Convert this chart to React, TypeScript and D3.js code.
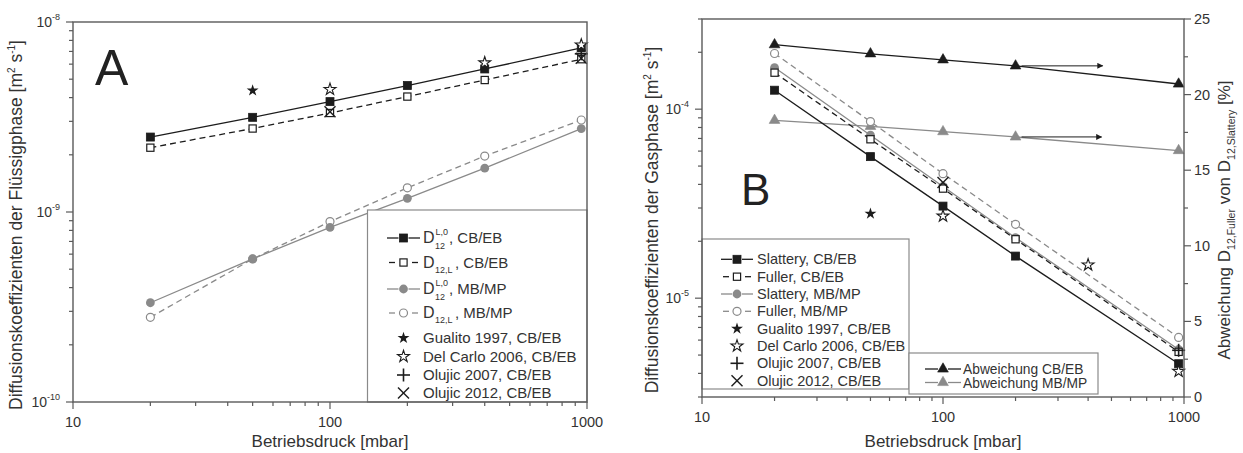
import React from 'react';
import * as d3 from 'd3';

// ---- Panel A: liquid-phase diffusion coefficients [m² s⁻¹] ----
const pressureLiquid = [20, 50, 100, 200, 400, 950];
const d12L0CbEb = [2.48e-9, 3.15e-9, 3.81e-9, 4.63e-9, 5.66e-9, 7.3e-9];
const d12LCbEb = [2.18e-9, 2.75e-9, 3.32e-9, 4.05e-9, 4.95e-9, 6.37e-9];
const d12L0MbMp = [3.33e-10, 5.66e-10, 8.3e-10, 1.18e-9, 1.7e-9, 2.75e-9];
const d12LMbMp = [2.79e-10, 5.66e-10, 8.9e-10, 1.34e-9, 1.97e-9, 3.05e-9];

const gualitoLiquid: [number, number][] = [[50, 4.36e-9]];
const delCarloLiquid: [number, number][] = [[100, 4.42e-9], [400, 6.1e-9], [950, 7.57e-9]];
const olujic2007Liquid: [number, number][] = [[950, 6.8e-9]];
const olujic2012Liquid: [number, number][] = [[100, 3.37e-9], [950, 6.45e-9]];

// ---- Panel B: gas-phase diffusion coefficients [m² s⁻¹] ----
const pressureGas = [20, 50, 100, 200, 950];
const slatteryCbEb = [1.26e-4, 5.61e-5, 3.07e-5, 1.67e-5, 4.5e-6];
const fullerCbEb = [1.56e-4, 6.93e-5, 3.8e-5, 2.05e-5, 5.2e-6];
const slatteryMbMp = [1.66e-4, 7.28e-5, 3.9e-5, 2.09e-5, 5.35e-6];
const fullerMbMp = [1.97e-4, 8.6e-5, 4.56e-5, 2.46e-5, 6.2e-6];
// deviation of Fuller from Slattery [%], right axis
const deviationCbEb = [23.3, 22.7, 22.3, 21.9, 20.7];
const deviationMbMp = [18.3, 17.9, 17.55, 17.2, 16.3];

const gualitoGas: [number, number][] = [[50, 2.8e-5]];
const delCarloGas: [number, number][] = [[100, 2.72e-5], [400, 1.5e-5], [950, 4.1e-6]];
const olujic2007Gas: [number, number][] = [[950, 5.3e-6]];
const olujic2012Gas: [number, number][] = [[100, 4.09e-5]];

const xTickLabels = ['10', '100', '1000'];
const rightTickLabels = [0, 5, 10, 15, 20, 25];

const FONT = '"Liberation Sans", Arial, Helvetica, sans-serif';
const INK = '#333';
const AXIS = '#5a5a5a';
const BLACK = '#1c1c1c';
const GRAY = '#8a8a8a';

type Kind = 'squareFilled' | 'squareOpen' | 'circleFilled' | 'circleOpen' | 'triangle' |
  'starFilled' | 'starOpen' | 'plus' | 'cross';

const triPath = d3.symbol().type(d3.symbolTriangle).size(50)() as string;
const starPath = d3.symbol().type(d3.symbolStar).size(44)() as string;

function Marker({ kind, x, y, color }: { kind: Kind; x: number; y: number; color: string }) {
  switch (kind) {
    case 'squareFilled':
      return <rect x={x - 4} y={y - 4} width={8} height={8} fill={color} stroke={color} strokeWidth={0.8} />;
    case 'squareOpen':
      return <rect x={x - 3.6} y={y - 3.6} width={7.2} height={7.2} fill="#fff" stroke={color} strokeWidth={1.2} />;
    case 'circleFilled':
      return <circle cx={x} cy={y} r={4.4} fill={color} />;
    case 'circleOpen':
      return <circle cx={x} cy={y} r={4} fill="#fff" stroke={color} strokeWidth={1.2} />;
    case 'triangle':
      return <path d={triPath} transform={`translate(${x},${y})`} fill={color} stroke={color} strokeWidth={0.6} />;
    case 'starFilled':
      return <path d={starPath} transform={`translate(${x},${y})`} fill={color} />;
    case 'starOpen':
      return <path d={starPath} transform={`translate(${x},${y})`} fill="#fff" stroke={color} strokeWidth={1.1} />;
    case 'plus':
      return (
        <g stroke={color} strokeWidth={1.6}>
          <line x1={x - 6.5} x2={x + 6.5} y1={y} y2={y} />
          <line x1={x} x2={x} y1={y - 6.5} y2={y + 6.5} />
        </g>
      );
    case 'cross':
      return (
        <g stroke={color} strokeWidth={1.4}>
          <line x1={x - 5.5} x2={x + 5.5} y1={y - 5.5} y2={y + 5.5} />
          <line x1={x - 5.5} x2={x + 5.5} y1={y + 5.5} y2={y - 5.5} />
        </g>
      );
  }
  return null;
}

type Scale = (v: number) => number;

interface Series { xs: number[]; ys: number[]; kind: Kind; color: string; dashed: boolean; }

function SeriesMarks({ s, x, y }: { s: Series; x: Scale; y: Scale }) {
  const pts: [number, number][] = s.xs.map((p, i) => [x(p), y(s.ys[i])]);
  const path = d3.line()(pts) as string;
  return (
    <g>
      <path d={path} fill="none" stroke={s.color} strokeWidth={1.3} strokeDasharray={s.dashed ? '6 4' : undefined} />
      {pts.map((p, i) => <Marker key={i} kind={s.kind} x={p[0]} y={p[1]} color={s.color} />)}
    </g>
  );
}

function PointMarks({ pts, kind, x, y }: { pts: [number, number][]; kind: Kind; x: Scale; y: Scale }) {
  return <g>{pts.map((p, i) => <Marker key={i} kind={kind} x={x(p[0])} y={y(p[1])} color={BLACK} />)}</g>;
}

function LegendSwatch({ x0, x1, y, kind, color, dashed }: { x0: number; x1: number; y: number; kind: Kind; color: string; dashed: boolean }) {
  const xm = (x0 + x1) / 2;
  return (
    <g>
      {dashed ? (
        <g stroke={color} strokeWidth={1.3}>
          <line x1={x0 + 2} x2={x0 + 8} y1={y} y2={y} />
          <line x1={x1 - 8} x2={x1 - 2} y1={y} y2={y} />
        </g>
      ) : (
        <g stroke={color} strokeWidth={1.3}>
          <line x1={x0} x2={xm - 5} y1={y} y2={y} />
          <line x1={xm + 5} x2={x1} y1={y} y2={y} />
        </g>
      )}
      <Marker kind={kind} x={xm} y={y} color={color} />
    </g>
  );
}

function LogYAxis({ y, x0, labelX }: { y: d3.ScaleLogarithmic<number, number>; x0: number; labelX: number }) {
  const ticks = y.ticks();
  return (
    <g>
      {ticks.map((t, i) => {
        const major = Math.abs(Math.log10(t) - Math.round(Math.log10(t))) < 1e-6;
        const py = y(t);
        return (
          <g key={i}>
            <line x1={x0 - (major ? 7 : 4)} x2={x0} y1={py} y2={py} stroke={AXIS} strokeWidth={1.2} />
            {major && (
              <text x={labelX} y={py + 5} textAnchor="end" fontSize={14} fill={INK}>
                10<tspan dy={-7} fontSize={9}>{String(Math.round(Math.log10(t)))}</tspan>
              </text>
            )}
          </g>
        );
      })}
    </g>
  );
}

function LogXAxis({ x, y0 }: { x: d3.ScaleLogarithmic<number, number>; y0: number }) {
  const ticks = x.ticks();
  return (
    <g>
      {ticks.map((t, i) => {
        const major = Math.abs(Math.log10(t) - Math.round(Math.log10(t))) < 1e-6;
        return <line key={i} x1={x(t)} x2={x(t)} y1={y0} y2={y0 + (major ? 7 : 4)} stroke={AXIS} strokeWidth={1.2} />;
      })}
      {xTickLabels.map((l) => (
        <text key={l} x={x(+l)} y={y0 + 25} textAnchor="middle" fontSize={14.5} fill={INK}>{l}</text>
      ))}
    </g>
  );
}

export default function App() {
  // panel A geometry
  const xA = d3.scaleLog().domain([10, 1000]).range([73, 587]);
  const yA = d3.scaleLog().domain([1e-10, 1e-8]).range([402, 22]);
  // panel B geometry
  const xB = d3.scaleLog().domain([10, 1000]).range([702, 1184]);
  const yB = d3.scaleLog().domain([3e-6, 3e-4]).range([397, 19]);
  const yB2 = d3.scaleLinear().domain([0, 25]).range([397, 19]);

  const liquidSeries: Series[] = [
    { xs: pressureLiquid, ys: d12LCbEb, kind: 'squareOpen', color: BLACK, dashed: true },
    { xs: pressureLiquid, ys: d12L0CbEb, kind: 'squareFilled', color: BLACK, dashed: false },
    { xs: pressureLiquid, ys: d12LMbMp, kind: 'circleOpen', color: GRAY, dashed: true },
    { xs: pressureLiquid, ys: d12L0MbMp, kind: 'circleFilled', color: GRAY, dashed: false },
  ];
  const gasSeries: Series[] = [
    { xs: pressureGas, ys: fullerMbMp, kind: 'circleOpen', color: GRAY, dashed: true },
    { xs: pressureGas, ys: slatteryMbMp, kind: 'circleFilled', color: GRAY, dashed: false },
    { xs: pressureGas, ys: fullerCbEb, kind: 'squareOpen', color: BLACK, dashed: true },
    { xs: pressureGas, ys: slatteryCbEb, kind: 'squareFilled', color: BLACK, dashed: false },
  ];
  const deviationSeries: Series[] = [
    { xs: pressureGas, ys: deviationMbMp, kind: 'triangle', color: GRAY, dashed: false },
    { xs: pressureGas, ys: deviationCbEb, kind: 'triangle', color: BLACK, dashed: false },
  ];

  const [ax0, ax1] = xA.range();
  const [aBottom, aTop] = yA.range();
  const [bx0, bx1] = xB.range();
  const [bBottom, bTop] = yB.range();

  // Legend rows for panel A
  const legA = { x: 367.5, y: 210, sx0: 387, sx1: 420, tx: 423 };
  const legARows = [238, 262.5, 289, 313, 338, 356.5, 375, 393];
  // Legend rows for panel B
  const legB = { x: bx0, y: 239, w: 207, h: 150, sx0: 721, sx1: 753, tx: 757 };
  const legBRows = [259.3, 276.7, 294, 311.3, 328.7, 346, 363.3, 380.7];
  const legC = { x: 909, y: 353, w: 189, h: 41, sx0: 925, sx1: 961, tx: 963 };

  const arrowBlackY = yB2(deviationCbEb[3]);
  const arrowGrayY = yB2(deviationMbMp[3]);

  return (
    <svg width={1243} height={453} style={{ position: 'absolute', left: 0, top: 0, background: '#fff' }} fontFamily={FONT}>
      <defs>
        <marker id="arrowHead" viewBox="0 0 10 10" refX="9" refY="5" markerWidth="8" markerHeight="6" orient="auto" markerUnits="userSpaceOnUse">
          <path d="M0,0 L10,5 L0,10 z" fill={BLACK} />
        </marker>
      </defs>
      <rect width={1243} height={453} fill="#fff" />

      {/* ===== Panel A ===== */}
      {liquidSeries.map((s, i) => <SeriesMarks key={i} s={s} x={xA} y={yA} />)}
      <PointMarks pts={gualitoLiquid} kind="starFilled" x={xA} y={yA} />
      <PointMarks pts={delCarloLiquid} kind="starOpen" x={xA} y={yA} />
      <PointMarks pts={olujic2007Liquid} kind="plus" x={xA} y={yA} />
      <PointMarks pts={olujic2012Liquid} kind="cross" x={xA} y={yA} />

      <text x={95} y={85} fontSize={50} fill="#222">A</text>

      {/* legend A */}
      <rect x={legA.x} y={legA.y} width={ax1 - legA.x} height={aBottom - legA.y} fill="#fff" stroke="#8a8a8a" strokeWidth={1.2} />
      <LegendSwatch x0={legA.sx0} x1={legA.sx1} y={legARows[0]} kind="squareFilled" color={BLACK} dashed={false} />
      <LegendSwatch x0={legA.sx0} x1={legA.sx1} y={legARows[1]} kind="squareOpen" color={BLACK} dashed={true} />
      <LegendSwatch x0={legA.sx0} x1={legA.sx1} y={legARows[2]} kind="circleFilled" color={GRAY} dashed={false} />
      <LegendSwatch x0={legA.sx0} x1={legA.sx1} y={legARows[3]} kind="circleOpen" color={GRAY} dashed={true} />
      <Marker kind="starFilled" x={(legA.sx0 + legA.sx1) / 2} y={legARows[4]} color={BLACK} />
      <Marker kind="starOpen" x={(legA.sx0 + legA.sx1) / 2} y={legARows[5]} color={BLACK} />
      <Marker kind="plus" x={(legA.sx0 + legA.sx1) / 2} y={legARows[6]} color={BLACK} />
      <Marker kind="cross" x={(legA.sx0 + legA.sx1) / 2} y={legARows[7]} color={BLACK} />
      <g fontSize={15} fill={INK}>
        {[0, 2].map((r) => (
          <g key={r}>
            <text x={legA.tx} y={legARows[r] + 5} fontSize={16}>D</text>
            <text x={legA.tx + 12.5} y={legARows[r] - 3} fontSize={9}>L,0</text>
            <text x={legA.tx + 12} y={legARows[r] + 11} fontSize={9}>12</text>
            <text x={legA.tx + 26} y={legARows[r] + 5}>, {r === 0 ? 'CB/EB' : 'MB/MP'}</text>
          </g>
        ))}
        {[1, 3].map((r) => (
          <g key={r}>
            <text x={legA.tx} y={legARows[r] + 5} fontSize={16}>D</text>
            <text x={legA.tx + 12} y={legARows[r] + 10} fontSize={9}>12,L</text>
            <text x={legA.tx + 32} y={legARows[r] + 5}>, {r === 1 ? 'CB/EB' : 'MB/MP'}</text>
          </g>
        ))}
        <text x={legA.tx} y={legARows[4] + 5}>Gualito 1997, CB/EB</text>
        <text x={legA.tx} y={legARows[5] + 5}>Del Carlo 2006, CB/EB</text>
        <text x={legA.tx} y={legARows[6] + 5}>Olujic 2007, CB/EB</text>
        <text x={legA.tx} y={legARows[7] + 5}>Olujic 2012, CB/EB</text>
      </g>

      {/* frame A */}
      <rect x={ax0} y={aTop} width={ax1 - ax0} height={aBottom - aTop} fill="none" stroke={AXIS} strokeWidth={1.4} />
      <LogYAxis y={yA} x0={ax0} labelX={60} />
      <LogXAxis x={xA} y0={aBottom} />
      <text x={(ax0 + ax1) / 2} y={447} textAnchor="middle" fontSize={17} fill={INK}>Betriebsdruck [mbar]</text>
      <text transform={`translate(22,225) rotate(-90)`} textAnchor="middle" fontSize={17.5} fill={INK}>
        Diffusionskoeffizienten der Flüssigphase [m<tspan dy={-7} fontSize={10}>2</tspan><tspan dy={7}> s</tspan><tspan dy={-7} fontSize={10}>-1</tspan><tspan dy={7}>]</tspan>
      </text>

      {/* ===== Panel B ===== */}
      {deviationSeries.map((s, i) => <SeriesMarks key={'d' + i} s={s} x={xB} y={yB2} />)}
      <line x1={xB(pressureGas[3]) + 6} x2={xB(460)} y1={arrowBlackY} y2={arrowBlackY} stroke={BLACK} strokeWidth={1} markerEnd="url(#arrowHead)" />
      <line x1={xB(pressureGas[3]) + 6} x2={xB(455)} y1={arrowGrayY} y2={arrowGrayY} stroke={BLACK} strokeWidth={1} markerEnd="url(#arrowHead)" />
      {gasSeries.map((s, i) => <SeriesMarks key={i} s={s} x={xB} y={yB} />)}
      <PointMarks pts={gualitoGas} kind="starFilled" x={xB} y={yB} />
      <PointMarks pts={delCarloGas} kind="starOpen" x={xB} y={yB} />
      <PointMarks pts={olujic2007Gas} kind="plus" x={xB} y={yB} />
      <PointMarks pts={olujic2012Gas} kind="cross" x={xB} y={yB} />

      <text x={741} y={205} fontSize={44} fill="#222">B</text>

      {/* legend B */}
      <rect x={legB.x} y={legB.y} width={legB.w} height={legB.h} fill="#fff" stroke="#8a8a8a" strokeWidth={1.2} />
      <LegendSwatch x0={legB.sx0} x1={legB.sx1} y={legBRows[0]} kind="squareFilled" color={BLACK} dashed={false} />
      <LegendSwatch x0={legB.sx0} x1={legB.sx1} y={legBRows[1]} kind="squareOpen" color={BLACK} dashed={true} />
      <LegendSwatch x0={legB.sx0} x1={legB.sx1} y={legBRows[2]} kind="circleFilled" color={GRAY} dashed={false} />
      <LegendSwatch x0={legB.sx0} x1={legB.sx1} y={legBRows[3]} kind="circleOpen" color={GRAY} dashed={true} />
      <Marker kind="starFilled" x={(legB.sx0 + legB.sx1) / 2} y={legBRows[4]} color={BLACK} />
      <Marker kind="starOpen" x={(legB.sx0 + legB.sx1) / 2} y={legBRows[5]} color={BLACK} />
      <Marker kind="plus" x={(legB.sx0 + legB.sx1) / 2} y={legBRows[6]} color={BLACK} />
      <Marker kind="cross" x={(legB.sx0 + legB.sx1) / 2} y={legBRows[7]} color={BLACK} />
      <g fontSize={14.5} fill={INK}>
        {['Slattery, CB/EB', 'Fuller, CB/EB', 'Slattery, MB/MP', 'Fuller, MB/MP', 'Gualito 1997, CB/EB',
          'Del Carlo 2006, CB/EB', 'Olujic 2007, CB/EB', 'Olujic 2012, CB/EB'].map((t, i) => (
          <text key={t} x={legB.tx} y={legBRows[i] + 5}>{t}</text>
        ))}
      </g>

      {/* legend C */}
      <rect x={legC.x} y={legC.y} width={legC.w} height={legC.h} fill="#fff" stroke="#8a8a8a" strokeWidth={1.2} />
      <LegendSwatch x0={legC.sx0} x1={legC.sx1} y={369} kind="triangle" color={BLACK} dashed={false} />
      <LegendSwatch x0={legC.sx0} x1={legC.sx1} y={382.5} kind="triangle" color={GRAY} dashed={false} />
      <g fontSize={13.8} fill={INK}>
        <text x={legC.tx} y={374}>Abweichung CB/EB</text>
        <text x={legC.tx} y={387.5}>Abweichung MB/MP</text>
      </g>

      {/* frame B */}
      <rect x={bx0} y={bTop} width={bx1 - bx0} height={bBottom - bTop} fill="none" stroke={AXIS} strokeWidth={1.4} />
      <LogYAxis y={yB} x0={bx0} labelX={689} />
      <LogXAxis x={xB} y0={bBottom} />
      {d3.range(0, 25.01, 2.5).map((t) => {
        const major = t % 5 === 0;
        return <line key={t} x1={bx1} x2={bx1 + (major ? 7 : 4)} y1={yB2(t)} y2={yB2(t)} stroke={AXIS} strokeWidth={1.2} />;
      })}
      {rightTickLabels.map((t) => (
        <text key={t} x={bx1 + 10} y={yB2(t) + 5} fontSize={14.5} fill={INK}>{t}</text>
      ))}
      <text x={(bx0 + bx1) / 2} y={447} textAnchor="middle" fontSize={17} fill={INK}>Betriebsdruck [mbar]</text>
      <text transform={`translate(658,220) rotate(-90)`} textAnchor="middle" fontSize={17.5} fill={INK}>
        Diffusionskoeffizienten der Gasphase [m<tspan dy={-7} fontSize={10}>2</tspan><tspan dy={7}> s</tspan><tspan dy={-7} fontSize={10}>-1</tspan><tspan dy={7}>]</tspan>
      </text>
      <text transform={`translate(1230,220) rotate(-90)`} textAnchor="middle" fontSize={17} fill={INK}>
        Abweichung D<tspan dy={5} fontSize={10.5}>12,Fuller</tspan><tspan dy={-5}> von D</tspan><tspan dy={5} fontSize={10.5}>12,Slattery</tspan><tspan dy={-5}> [%]</tspan>
      </text>
    </svg>
  );
}
